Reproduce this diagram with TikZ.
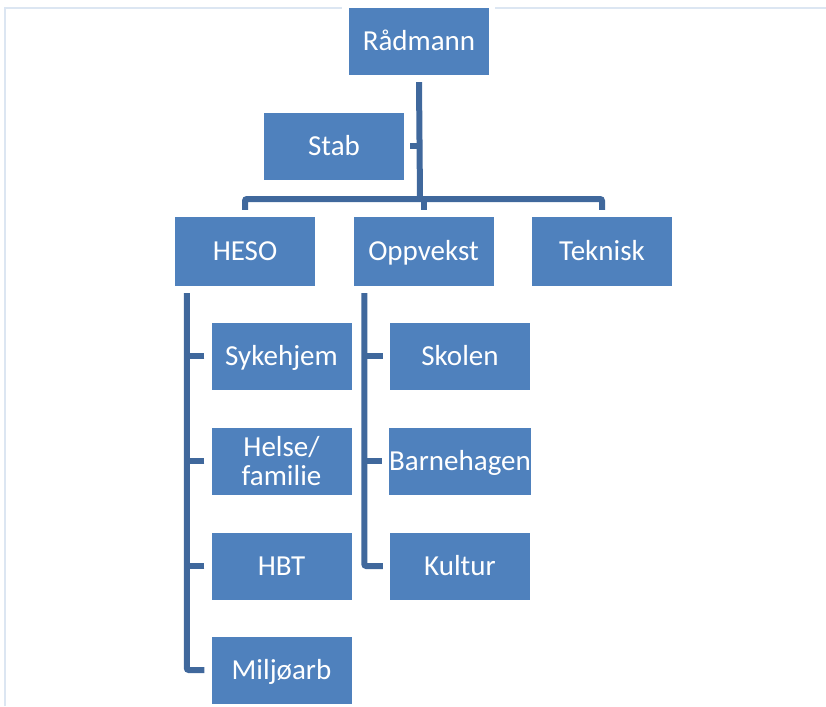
\documentclass[tikz,border=0pt]{standalone}
\usepackage{fontspec}
\setmainfont{Carlito}
\definecolor{boxblue}{RGB}{79,129,189}
\definecolor{linkblue}{RGB}{64,104,156}
\definecolor{frameblue}{RGB}{220,230,242}
\begin{document}
\begin{tikzpicture}[x=1pt,y=-1pt,
  orgbox/.style={rectangle, fill=boxblue, text=white, minimum width=140pt, minimum height=67pt,
    inner sep=0pt, align=center, font=\fontsize{29}{29}\selectfont},
  oneline/.style={text height=22pt, text depth=3.3pt},
  conn/.style={draw=linkblue, line width=6pt, rounded corners=2pt},
  tick/.style={draw=linkblue, line width=5.5pt}]
\useasboundingbox (0,0) rectangle (826,706);
% light frame
\draw[frameblue, line width=2pt] (4,8) -- (342,8);
\draw[frameblue, line width=2pt] (495,8) -- (826,8);
\draw[frameblue, line width=2pt] (5,8) -- (5,706);
% nodes
\node[orgbox, oneline] (rad) at (419,41.5) {Rådmann};
\node[orgbox, oneline] (stab) at (334,146) {Stab};
\node[orgbox, oneline, minimum height=69pt] (heso) at (245,251.5) {HESO};
\node[orgbox, oneline, minimum height=69pt] (opp) at (423.5,251.5) {Oppvekst};
\node[orgbox, oneline, minimum height=69pt] (tek) at (602,251.5) {Teknisk};
\node[orgbox, oneline] (syk) at (281.5,356) {Sykehjem};
\node[orgbox] (hel) at (281.5,461) {Helse/\\familie};
\node[orgbox, oneline] (hbt) at (281.5,566) {HBT};
\node[orgbox, oneline] (mil) at (281.5,670) {Miljøarb};
\node[orgbox, oneline] (sko) at (460,356) {Skolen};
\node[orgbox, oneline] (bhg) at (460,461) {Barnehagen};
\node[orgbox, oneline] (kul) at (460,566) {Kultur};
% top level connectors
\coordinate (barc) at (420,199);
\draw[conn] ([yshift=-7pt]rad.south) -- (barc);
\draw[tick] ([xshift=6pt]stab.east) -- (stab.east -| barc);
\draw[conn] ([yshift=7pt]heso.north) |- (barc) -| ([yshift=7pt]tek.north);
\draw[conn] ([yshift=7pt]opp.north) -- (opp.north |- barc);
% HESO spine
\coordinate (hs) at ([xshift=12pt,yshift=-7pt]heso.south west);
\draw[conn] (hs) |- ([xshift=-7pt]mil.west);
\draw[tick] ([xshift=-7pt]syk.west) -- (syk.west -| hs);
\draw[tick] ([xshift=-7pt]hel.west) -- (hel.west -| hs);
\draw[tick] ([xshift=-7pt]hbt.west) -- (hbt.west -| hs);
% Oppvekst spine
\coordinate (os) at ([xshift=11pt,yshift=-7pt]opp.south west);
\draw[conn] (os) |- ([xshift=-7pt]kul.west);
\draw[tick] ([xshift=-7pt]sko.west) -- (sko.west -| os);
\draw[tick] ([xshift=-7pt]bhg.west) -- (bhg.west -| os);
\end{tikzpicture}
\end{document}
